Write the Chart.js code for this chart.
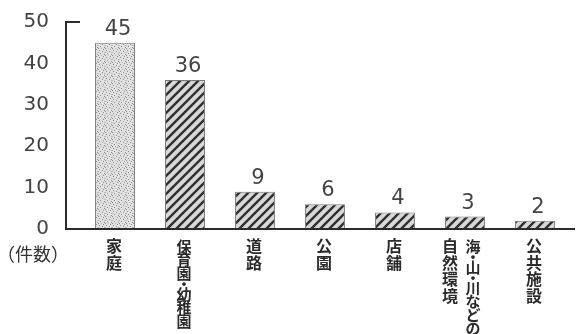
<!DOCTYPE html>
<html>
<head>
<meta charset="utf-8">
<script src="https://cdn.jsdelivr.net/npm/chart.js@4"></script>
<style>
  html, body { margin: 0; padding: 0; background: #fff; }
  #wrap { width: 577px; height: 334px; }
</style>
</head>
<body>
<div id="wrap"><canvas id="graph"></canvas></div>
<script>
const categories = ['家庭', '保育園・幼稚園', '道路', '公園', '店舗', '海・山・川などの自然環境', '公共施設'];
const counts = [45, 36, 9, 6, 4, 3, 2];
const labelColumns = [['家庭'], ['保育園・幼稚園'], ['道路'], ['公園'], ['店舗'], ['海・山・川などの', '自然環境'], ['公共施設']];
const unitLabel = '(件数)';

const ink = '#2b2b2b';
const cjk = '"Noto Sans CJK JP", sans-serif';
const digits = '"DejaVu Sans", sans-serif';

// hatched fill, "/" direction
function hatch() {
    const c = document.createElement('canvas');
    c.width = 9; c.height = 9;
    const g = c.getContext('2d');
    g.fillStyle = '#d8d8d8';
    g.fillRect(0, 0, 9, 9);
    g.strokeStyle = '#303030';
    g.lineWidth = 2.4;
    g.beginPath();
    g.moveTo(-2, 11); g.lineTo(11, -2);
    g.moveTo(-2, 2); g.lineTo(2, -2);
    g.moveTo(7, 11); g.lineTo(11, 7);
    g.stroke();
    return g.createPattern(c, 'repeat');
}

// stippled fill
function stipple() {
    const c = document.createElement('canvas');
    c.width = 7; c.height = 7;
    const g = c.getContext('2d');
    g.fillStyle = '#e2e2e2';
    g.fillRect(0, 0, 7, 7);
    g.fillStyle = '#8a8a8a';
    [[1, 1], [4, 2], [2, 4], [6, 5], [5, 0], [0, 6]].forEach(p => g.fillRect(p[0], p[1], 1, 1));
    g.fillStyle = '#b5b5b5';
    [[3, 6], [6, 3], [0, 3]].forEach(p => g.fillRect(p[0], p[1], 1, 1));
    return g.createPattern(c, 'repeat');
}

const fills = counts.map((v, i) => i === 0 ? stipple() : hatch());

const decorations = {
    id: 'decorations',
    afterDatasetsDraw(chart) {
        const ctx = chart.ctx;
        const x = chart.scales.x;
        const y = chart.scales.y;
        const top = y.getPixelForValue(50);
        const base = y.getPixelForValue(0);
        ctx.save();

        // axis lines
        ctx.strokeStyle = ink;
        ctx.lineWidth = 2;
        ctx.beginPath();
        ctx.moveTo(80, top);
        ctx.lineTo(66, top);
        ctx.lineTo(66, base);
        ctx.lineTo(575, base);
        ctx.stroke();

        // values above bars
        ctx.fillStyle = '#444';
        ctx.font = '21px ' + digits;
        ctx.textAlign = 'center';
        ctx.textBaseline = 'alphabetic';
        counts.forEach((v, i) => {
            ctx.fillText(String(v), x.getPixelForValue(i) + 3, y.getPixelForValue(v) - 8);
        });

        // vertical category labels
        ctx.fillStyle = ink;
        ctx.textBaseline = 'middle';
        labelColumns.forEach((cols, i) => {
            const cx = x.getPixelForValue(i);
            cols.forEach((col, k) => {
                const colX = cols.length > 1 ? cx + 8 - 23 * k : cx - 1;
                const long = col.length > 4;
                const step = long ? 13.5 : 16.5;
                ctx.font = 'bold ' + (long ? 15 : 16) + 'px ' + cjk;
                let cy = base + 17;
                Array.from(col).forEach((ch, j) => {
                    const s = ch === '・' ? step * 0.7 : step;
                    if (ch === '・' || (j > 0 && col[j - 1] === '・')) cy -= (step - s) / 2;
                    ctx.fillText(ch, colX, cy);
                    cy += s;
                });
            });
        });

        // unit label
        ctx.font = '18px ' + cjk;
        ctx.fillStyle = '#333';
        ctx.fillText('（件数）', 33, 254);
        ctx.restore();
    }
};

const config = {
    type: 'bar',
    data: {
        labels: categories,
        datasets: [{
            label: unitLabel,
            data: counts,
            backgroundColor: fills,
            borderColor: '#777',
            borderWidth: 1,
            barPercentage: 0.57,
            categoryPercentage: 1
        }]
    },
    options: {
        responsive: true,
        maintainAspectRatio: false,
        animation: false,
        layout: { padding: { left: 0, right: 7, top: 22, bottom: 105 } },
        plugins: {
            legend: { display: false },
            tooltip: { enabled: false }
        },
        scales: {
            x: { display: false },
            y: {
                min: 0,
                max: 50,
                afterFit: (scale) => {
                    scale.width = 80;
                    scale.paddingTop = 0;
                    scale.paddingBottom = 0;
                },
                grid: { display: false },
                border: { display: false },
                ticks: {
                    stepSize: 10,
                    padding: 23,
                    color: '#444',
                    font: { family: digits, size: 20 }
                }
            }
        }
    },
    plugins: [decorations]
};

const graph = document.querySelector('#graph');
new Chart(graph, config);
</script>
</body>
</html>
